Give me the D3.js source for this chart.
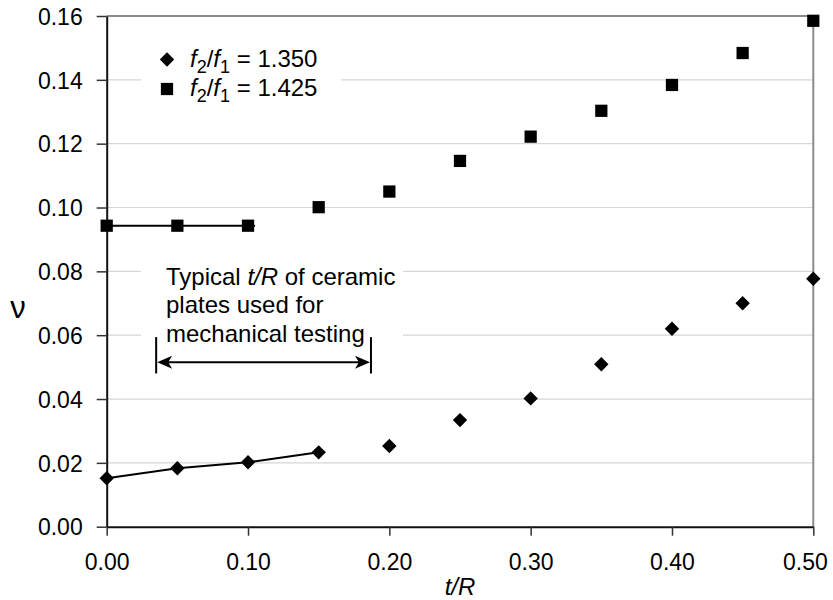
<!DOCTYPE html>
<html>
<head>
<meta charset="utf-8">
<script src="https://cdn.jsdelivr.net/npm/d3@7"></script>
<style>
  body { margin: 0; background: #fff; }
  svg { font-family: "Liberation Sans", Arial, sans-serif; }
</style>
</head>
<body>
<div id="chart"></div>
<script>
// values
const tR = [0, 0.05, 0.10, 0.15, 0.20, 0.25, 0.30, 0.35, 0.40, 0.45, 0.50];
const nu1350 = [0.0152, 0.0183, 0.0202, 0.0233, 0.0253, 0.0334, 0.0402, 0.0509, 0.0620, 0.0700, 0.0777];
const nu1425 = [0.0943, 0.0943, 0.0943, 0.1001, 0.1050, 0.1146, 0.1222, 0.1303, 0.1384, 0.1484, 0.1585];

// short fitted lines through the first points
const fit1350 = [[0, 0.0152], [0.05, 0.0183], [0.10, 0.0202], [0.15, 0.0233]];
const fit1425 = [[0, 0.0943], [0.105, 0.0943]];

const xTicks = [0, 0.1, 0.2, 0.3, 0.4, 0.5];
const yTicks = [0, 0.02, 0.04, 0.06, 0.08, 0.10, 0.12, 0.14, 0.16];

const legendLabels = ['1.350', '1.425'];
const noteLines = ['Typical |t/R| of ceramic', 'plates used for', 'mechanical testing'];
// range bracket (t/R from .. to) and its height in nu
const noteRange = [0.035, 0.187];
const noteArrowY = 0.0515;
const noteBarY = [0.048, 0.0594];

const width = 833, height = 600;
const margin = {top: 16, right: 19.7, bottom: 73.3, left: 106.7};

const svg = d3.select('#chart').append('svg')
  .attr('width', width)
  .attr('height', height);

const x = d3.scaleLinear().domain([0, 0.5]).range([margin.left, width - margin.right]);
const y = d3.scaleLinear().domain([0, 0.16]).range([height - margin.bottom, margin.top]);

// gridlines
svg.append('g')
  .selectAll('line')
  .data(yTicks.filter(d => d > 0 && d < 0.16))
  .join('line')
    .attr('x1', x(0)).attr('x2', x(0.5))
    .attr('y1', d => y(d)).attr('y2', d => y(d))
    .attr('stroke', '#d6d6d6')
    .attr('stroke-width', 1.2);

// white boxes behind legend and note (they cut the gridlines)
svg.append('rect')
  .attr('x', 141).attr('y', 38).attr('width', 200).attr('height', 70)
  .attr('fill', '#fff');
svg.append('rect')
  .attr('x', 141).attr('y', 255).attr('width', 262).attr('height', 92)
  .attr('fill', '#fff');

// top and right frame
svg.append('path')
  .attr('d', `M${x(0)},${y(0.16)}H${x(0.5)}V${y(0)}`)
  .attr('fill', 'none')
  .attr('stroke', '#8c8c8c')
  .attr('stroke-width', 2);

// axes
const xAxis = svg.append('g')
  .attr('transform', `translate(0,${y(0)})`)
  .call(d3.axisBottom(x).tickValues(xTicks).tickFormat(d3.format('.2f')).tickSize(9).tickSizeOuter(0));
xAxis.select('.domain').attr('stroke', '#111').attr('stroke-width', 2);
xAxis.selectAll('.tick line').attr('stroke', '#333').attr('stroke-width', 1.5);
xAxis.selectAll('.tick text')
  .attr('y', 43).attr('dy', 0)
  .attr('font-size', 23).attr('fill', '#000')
  .attr('font-family', '"Liberation Sans", Arial, sans-serif');
// the last label is pulled inside the page, as in the original
xAxis.selectAll('.tick text').filter(d => d === 0.5)
  .attr('text-anchor', 'end').attr('x', 14);

const yAxis = svg.append('g')
  .attr('transform', `translate(${x(0)},0)`)
  .call(d3.axisLeft(y).tickValues(yTicks).tickFormat(d3.format('.2f')).tickSize(10).tickSizeOuter(0));
yAxis.select('.domain').attr('stroke', '#111').attr('stroke-width', 2);
yAxis.selectAll('.tick line').attr('stroke', '#333').attr('stroke-width', 1.5);
yAxis.selectAll('.tick text')
  .attr('x', -24).attr('dy', '0.36em')
  .attr('font-size', 23).attr('fill', '#000')
  .attr('font-family', '"Liberation Sans", Arial, sans-serif');

// axis titles
svg.append('text')
  .attr('x', x(0.25)).attr('y', 595)
  .attr('text-anchor', 'middle')
  .attr('font-size', 24)
  .attr('font-style', 'italic')
  .text('t/R');

svg.append('text')
  .attr('x', 18).attr('y', 318)
  .attr('text-anchor', 'middle')
  .attr('font-size', 31)
  .text('ν');

// fitted lines
const line = d3.line().x(d => x(d[0])).y(d => y(d[1]));
svg.append('path').attr('d', line(fit1350))
  .attr('fill', 'none').attr('stroke', '#000').attr('stroke-width', 2);
svg.append('path').attr('d', line(fit1425))
  .attr('fill', 'none').attr('stroke', '#000').attr('stroke-width', 2);

// markers
const diamond = () => 'M0,-7.2L7.2,0L0,7.2L-7.2,0Z';
const square = d3.symbol().type(d3.symbolSquare).size(150);

svg.append('g').selectAll('path')
  .data(tR.map((t, i) => [t, nu1350[i]]))
  .join('path')
    .attr('d', diamond)
    .attr('transform', d => `translate(${x(d[0])},${y(d[1])})`)
    .attr('fill', '#000');

svg.append('g').selectAll('path')
  .data(tR.map((t, i) => [t, nu1425[i]]))
  .join('path')
    .attr('d', square)
    .attr('transform', d => `translate(${x(d[0])},${y(d[1])})`)
    .attr('fill', '#000');

// legend
const legend = svg.append('g');
const legRows = legend.selectAll('g')
  .data(legendLabels)
  .join('g')
    .attr('transform', (d, i) => `translate(167,${59.5 + i * 29.5})`);
legRows.append('path')
  .attr('d', (d, i) => i === 0 ? diamond() : square())
  .attr('fill', '#000');
const legText = legRows.append('text')
  .attr('x', 23).attr('y', 7)
  .attr('font-size', 24);
legText.append('tspan').attr('font-style', 'italic').text('f');
legText.append('tspan').attr('font-size', 18).attr('dy', 6).text('2');
legText.append('tspan').attr('dy', -6).text('/');
legText.append('tspan').attr('font-style', 'italic').text('f');
legText.append('tspan').attr('font-size', 18).attr('dy', 6).text('1');
legText.append('tspan').attr('dy', -6).text(d => ' = ' + d);

// note text
const note = svg.append('text')
  .attr('font-size', 24);
noteLines.forEach((ln, i) => {
  const parts = ln.split('|');
  parts.forEach((p, j) => {
    const ts = note.append('tspan').text(p);
    if (j === 0) ts.attr('x', 166).attr('y', 285 + i * 28.4);
    if (j % 2 === 1) ts.attr('font-style', 'italic');
  });
});

// range bracket with double arrow
const ax0 = x(noteRange[0]), ax1 = x(noteRange[1]), ay = y(noteArrowY);
svg.append('line')
  .attr('x1', ax0 + 8).attr('x2', ax1 - 8)
  .attr('y1', ay).attr('y2', ay)
  .attr('stroke', '#000').attr('stroke-width', 2);
svg.append('g').selectAll('line')
  .data(noteRange)
  .join('line')
    .attr('x1', d => x(d)).attr('x2', d => x(d))
    .attr('y1', y(noteBarY[1])).attr('y2', y(noteBarY[0]))
    .attr('stroke', '#000').attr('stroke-width', 2);
const head = 'M0,0L15,-6.5L11,0L15,6.5Z';
svg.append('path').attr('d', head)
  .attr('transform', `translate(${ax0 + 1},${ay})`).attr('fill', '#000');
svg.append('path').attr('d', head)
  .attr('transform', `translate(${ax1 - 1},${ay}) scale(-1,1)`).attr('fill', '#000');
</script>
</body>
</html>
